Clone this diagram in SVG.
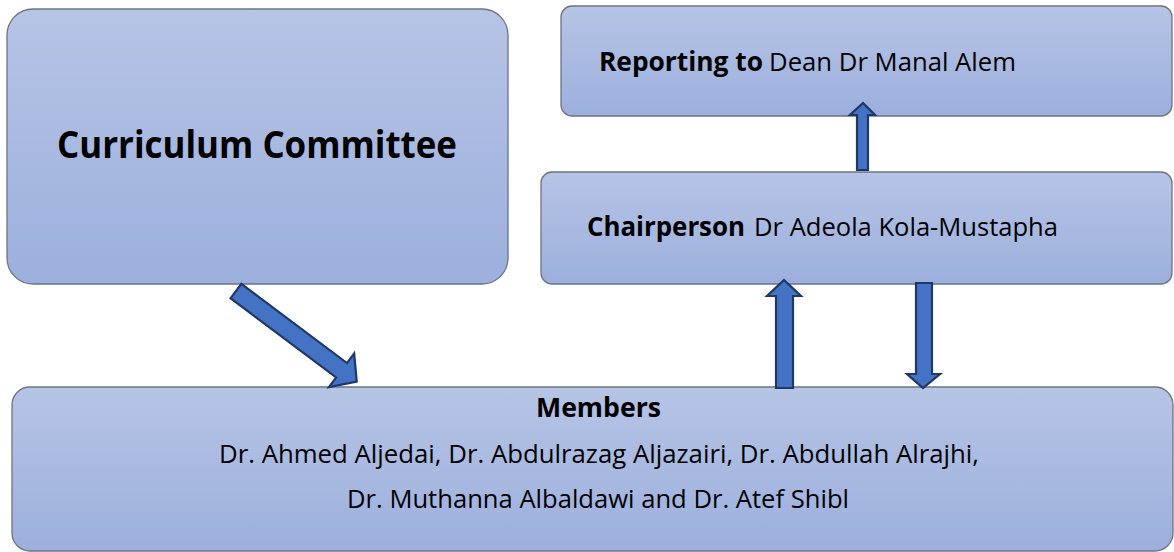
<svg xmlns="http://www.w3.org/2000/svg" width="1174" height="552" viewBox="0 0 1174 552">
  <defs>
    <linearGradient id="boxGrad" x1="0" y1="0" x2="0" y2="1">
      <stop offset="0" stop-color="#b6c4e5"/>
      <stop offset="1" stop-color="#9cafdd"/>
    </linearGradient>
    <style>
      .box { fill: url(#boxGrad); stroke: #6e7383; stroke-width: 1.3; }
      .arrow { fill: #4472c4; stroke: #1f3864; stroke-width: 2.2; stroke-linejoin: miter; }
      text { font-family: "Open Sans", "Noto Sans", "Liberation Sans", sans-serif; fill: #000; }
      .b { font-weight: bold; }
    </style>
  </defs>
  <rect width="1174" height="552" fill="#ffffff"/>

  <g id="node-curriculum">
    <rect class="box" x="7" y="9" width="501" height="275" rx="26"/>
    <text class="b" x="57" y="158" font-size="37" textLength="400" lengthAdjust="spacingAndGlyphs">Curriculum Committee</text>
  </g>

  <g id="node-reporting">
    <rect class="box" x="561" y="6" width="611" height="110" rx="11"/>
    <text class="b" x="599" y="71" font-size="26" textLength="164" lengthAdjust="spacingAndGlyphs">Reporting to</text>
    <text x="769" y="71" font-size="26" textLength="247" lengthAdjust="spacingAndGlyphs">Dean Dr Manal Alem</text>
  </g>

  <g id="node-chairperson">
    <rect class="box" x="541" y="172" width="631" height="112" rx="11"/>
    <text class="b" x="587" y="236" font-size="26" textLength="158" lengthAdjust="spacingAndGlyphs">Chairperson</text>
    <text x="754" y="236" font-size="26" textLength="304" lengthAdjust="spacingAndGlyphs">Dr Adeola Kola-Mustapha</text>
  </g>

  <g id="node-members">
    <rect class="box" x="12" y="387" width="1161" height="164" rx="18"/>
    <text class="b" x="536" y="417" font-size="26" textLength="125" lengthAdjust="spacingAndGlyphs">Members</text>
    <text x="219" y="463" font-size="26" textLength="760" lengthAdjust="spacingAndGlyphs">Dr. Ahmed Aljedai, Dr. Abdulrazag Aljazairi, Dr. Abdullah Alrajhi,</text>
    <text x="347" y="508" font-size="26" textLength="502" lengthAdjust="spacingAndGlyphs">Dr. Muthanna Albaldawi and Dr. Atef Shibl</text>
  </g>

  <g id="connectors">
    <polygon class="arrow" transform="translate(236,291) rotate(36.9)" points="0,-9 132,-9 132,-21 151,0 132,21 132,9 0,9"/>
    <polygon class="arrow" points="776,388 776,296 767,296 784,280 801,296 793,296 793,388"/>
    <polygon class="arrow" points="916,283 932,283 932,374 940,374 923,388 907,374 916,374"/>
    <polygon class="arrow" points="857,170 857,115 850,115 863,103 875,115 868,115 868,170"/>
  </g>
</svg>
